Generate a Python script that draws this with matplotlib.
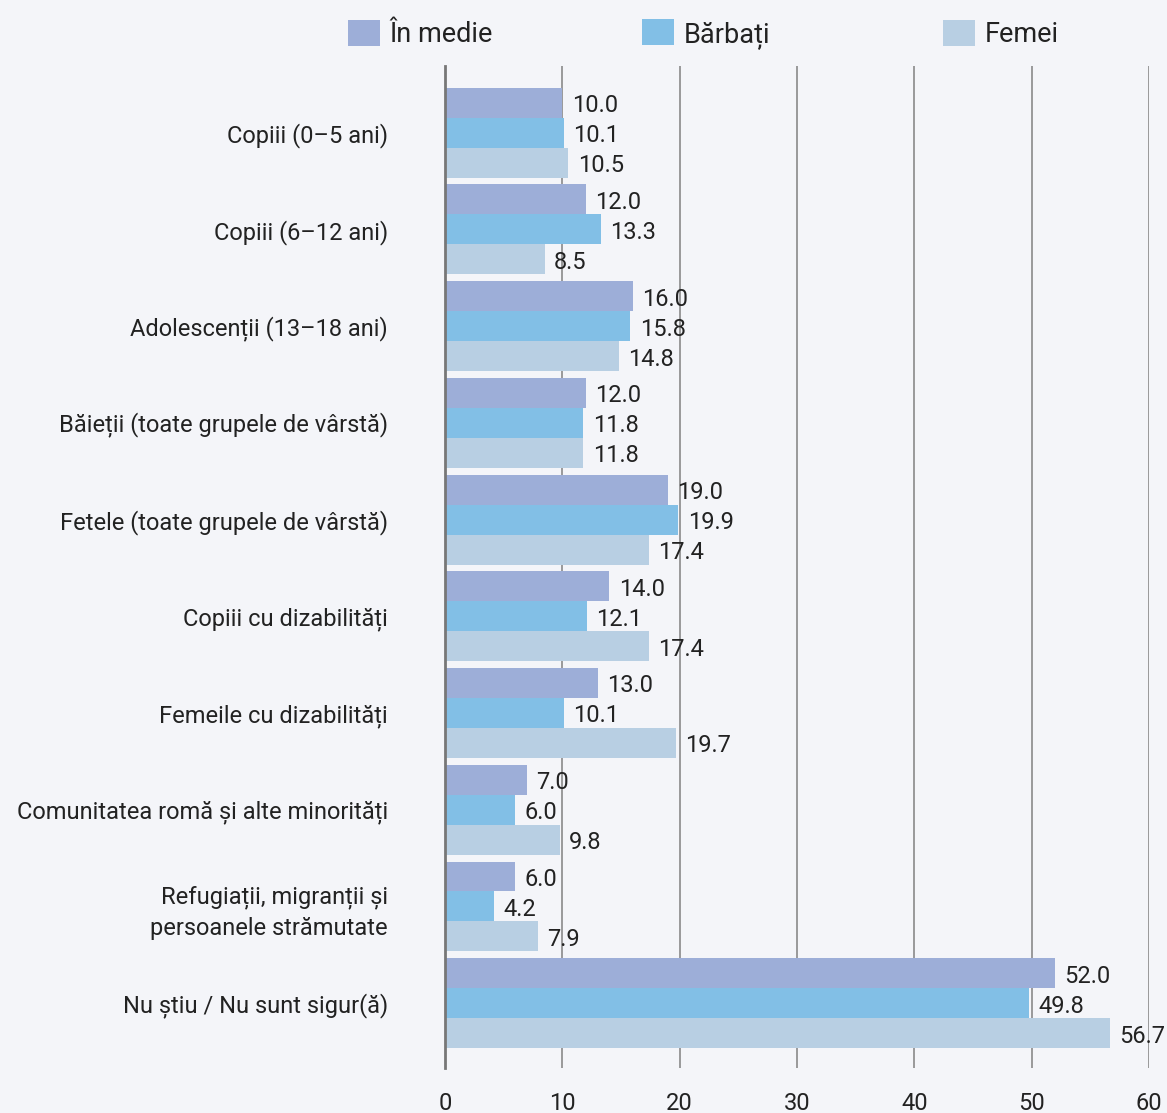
import matplotlib.pyplot as plt
from matplotlib.patches import Patch
import numpy as np

plt.rcParams['font.family'] = ['Roboto', 'DejaVu Sans']

# categorii si valori (%)
categories = [
    "Copiii (0–5 ani)",
    "Copiii (6–12 ani)",
    "Adolescenții (13–18 ani)",
    "Băieții (toate grupele de vârstă)",
    "Fetele (toate grupele de vârstă)",
    "Copiii cu dizabilități",
    "Femeile cu dizabilități",
    "Comunitatea romă și alte minorități",
    "Refugiații, migranții și\npersoanele strămutate",
    "Nu știu / Nu sunt sigur(ă)",
]
in_medie = [10.0, 12.0, 16.0, 12.0, 19.0, 14.0, 13.0, 7.0, 6.0, 52.0]
barbati = [10.1, 13.3, 15.8, 11.8, 19.9, 12.1, 10.1, 6.0, 4.2, 49.8]
femei = [10.5, 8.5, 14.8, 11.8, 17.4, 17.4, 19.7, 9.8, 7.9, 56.7]
series_names = ["În medie", "Bărbați", "Femei"]
xticks = [0, 10, 20, 30, 40, 50, 60]

colors = ["#9daed8", "#82bfe6", "#b8cfe3"]
bg = "#f4f5f9"
text_color = "#222222"

fig = plt.figure(figsize=(11.67, 11.13), dpi=100, facecolor=bg)
ax = fig.add_axes([445 / 1167, 1 - 1068 / 1113, (1149 - 445) / 1167, (1068 - 66) / 1113])
ax.set_facecolor(bg)

y = np.arange(len(categories))
h = 0.31
for i, (vals, col) in enumerate(zip([in_medie, barbati, femei], colors)):
    pos = y + (i - 1) * h
    ax.barh(pos, vals, height=h, color=col, zorder=2)
    for p, v in zip(pos, vals):
        ax.text(v + 0.8, p + 0.03, f"{v:.1f}", va='center', ha='left', fontsize=17,
                color=text_color, zorder=3)

ax.set_ylim(len(categories) - 1 + 0.67, -0.69)
ax.set_xlim(0, 60)
ax.set_xticks(xticks)
ax.set_xticklabels([str(t) for t in xticks])
ax.set_yticks(y)
ax.set_yticklabels(categories, fontsize=17, color=text_color, linespacing=1.4)
ax.tick_params(axis='y', length=0, pad=41)
ax.tick_params(axis='x', length=0, pad=17, labelsize=17, labelcolor=text_color)
for lbl in ax.get_yticklabels():
    lbl.set_horizontalalignment('right')

ax.grid(axis='x', color='#8a8a8a', linewidth=1.2, zorder=0)
ax.set_axisbelow(True)
for s in ['top', 'right', 'bottom']:
    ax.spines[s].set_visible(False)
ax.spines['left'].set_color('#777777')
ax.spines['left'].set_linewidth(2)
ax.spines['left'].set_zorder(4)

# legenda - fiecare intrare plasata separat
leg_x = [348, 642, 943]
for name, col, lx in zip(series_names, colors, leg_x):
    fig.legend(handles=[Patch(facecolor=col, edgecolor='none')], labels=[name],
               loc='center left', bbox_to_anchor=(lx / 1167, 1 - 34 / 1113),
               frameon=False, fontsize=19.5, handlelength=1.18, handleheight=1.1,
               handletextpad=0.36, borderpad=0, borderaxespad=0, labelcolor=text_color)

plt.savefig("out.png", dpi=100, facecolor=bg)
